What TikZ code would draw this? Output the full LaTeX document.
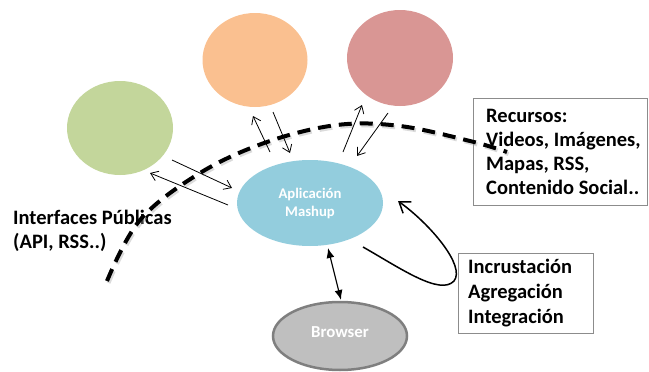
\documentclass[tikz,border=0pt]{standalone}
\usepackage{fontspec}
\setmainfont{Carlito}
\usetikzlibrary{shapes.geometric,arrows.meta}
\definecolor{cgreen}{HTML}{C3D69B}
\definecolor{corange}{HTML}{FAC090}
\definecolor{cred}{HTML}{D99694}
\definecolor{cblue}{HTML}{93CDDD}
\definecolor{cgray}{HTML}{BFBFBF}
\definecolor{cgrayb}{HTML}{7F7F7F}
\definecolor{cbox}{HTML}{8C8C8C}
\tikzset{
  blob/.style={ellipse, inner sep=0pt, draw=none},
  flow/.style={line width=0.8pt, -{Straight Barb[length=7pt,width=10pt]}},
  bigtext/.style={font=\fontsize{20.5}{24}\selectfont\bfseries, align=left, inner sep=0pt, anchor=base west},
  framebox/.style={draw=cbox, line width=0.8pt, inner sep=0pt, anchor=north west},
  border/.style={line width=4pt, dash pattern=on 13pt off 8pt, black}
}
\begin{document}
\begin{tikzpicture}[x=1pt,y=-1pt]
\useasboundingbox (0,0) rectangle (649,372);
% resource blobs
\node[blob, fill=cgreen, minimum width=106pt, minimum height=94pt] (green) at (120,128) {};
\node[blob, fill=corange, minimum width=105pt, minimum height=94pt] (orange) at (255,60) {};
\node[blob, fill=cred, minimum width=106pt, minimum height=96pt] (red) at (400,58) {};
% application
\node[blob, fill=cblue, minimum width=146pt, minimum height=86pt, text=white, align=center,
      font=\fontsize{14.7}{18}\selectfont\bfseries] (app) at (310,203) {Aplicación\\Mashup};
\node[blob, fill=cgray, draw=cgrayb, line width=2.5pt, minimum width=134pt, minimum height=68pt,
      text=white, font=\fontsize{16.8}{20}\selectfont\bfseries, text height=11pt, text depth=9pt] (browser) at (340,336) {Browser};
% boxes
\node[framebox, minimum width=174pt, minimum height=107pt] (rbox) at (473,98) {};
\node[framebox, minimum width=135pt, minimum height=80pt] (ibox) at (458,253) {};
\node[bigtext] (rtext) at (486,194) {Recursos:\\Videos, Imágenes,\\Mapas, RSS,\\Contenido Social..};
\node[bigtext, font=\fontsize{20.5}{25}\selectfont\bfseries] (itext) at (468,323) {Incrustación\\Agregación\\Integración};
\node[bigtext] (iface) at (13,248) {Interfaces Públicas\\(API, RSS..)};
% dashed boundary
\draw[border, black!35, opacity=0.4, xshift=1.5pt, yshift=-2pt] plot[smooth, tension=0.6] coordinates
  {(107,281) (140,220) (200,173) (267,142) (337,125) (400,126) (470,141) (507,152)};
\draw[border] plot[smooth, tension=0.6] coordinates
  {(107,281) (140,220) (200,173) (267,142) (337,125) (400,126) (470,141) (507,152)};
% arrow end points
\coordinate (gA1) at (172,160); \coordinate (gA2) at (232,188);
\coordinate (gB1) at (228,205); \coordinate (gB2) at (150,173);
\coordinate (oA1) at (270,152); \coordinate (oA2) at (253,116);
\coordinate (oB1) at (273,112); \coordinate (oB2) at (290,153);
\coordinate (rA1) at (343,152); \coordinate (rA2) at (362,105);
\coordinate (rB1) at (388,113); \coordinate (rB2) at (357,156);
\coordinate (lp1) at (363,247); \coordinate (lp2) at (398,201);
\coordinate (bA1) at (328,248); \coordinate (bA2) at (341,300);
\draw[flow] (gA1) -- (gA2);
\draw[flow] (gB1) -- (gB2);
\draw[flow] (oA1) -- (oA2);
\draw[flow] (oB1) -- (oB2);
\draw[flow] (rA1) -- (rA2);
\draw[flow] (rB1) -- (rB2);
\draw[line width=1.5pt, -{Straight Barb[length=10pt,width=14pt]}]
  (lp1) .. controls (400,268) and (440,296) .. (454,281) .. controls (466,266) and (430,224) .. (lp2);
\draw[line width=1.2pt, {Latex[length=10pt,width=8pt]}-{Latex[length=10pt,width=8pt]}] (bA1) -- (bA2);
\end{tikzpicture}
\end{document}
